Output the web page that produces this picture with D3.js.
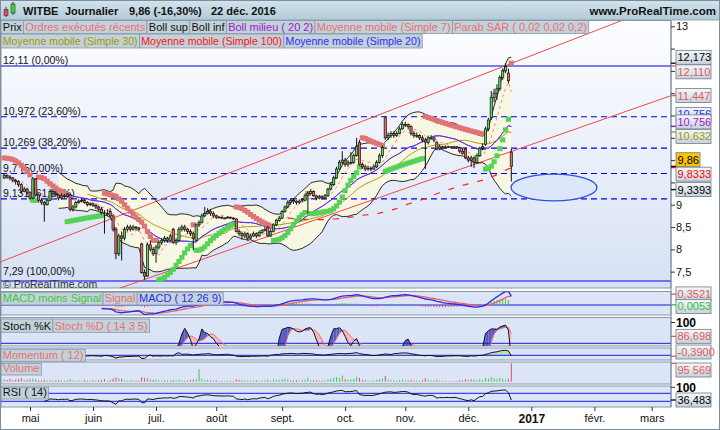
<!DOCTYPE html>
<html><head><meta charset="utf-8">
<script src="https://cdn.jsdelivr.net/npm/d3@7/dist/d3.min.js"></script>
<style>body{margin:0;background:#fff}svg{display:block;font-family:"Liberation Sans",Arial,sans-serif}</style>
</head><body><svg id="c" width="720" height="430"></svg>
<script>
// ---------------- DATA ----------------
const startDate = "2016-04-19";
const opens = [
9.60,9.66,9.62,9.60,9.55,9.52,9.45,9.30,9.35,9.28,
9.15,9.58,9.22,9.10,9.05,9.00,9.10,9.30,9.25,9.22,
9.15,9.20,9.18,9.22,8.90,8.95,9.05,9.08,9.10,9.05,
9.00,9.02,8.98,8.95,8.90,8.82,8.80,8.85,8.75,8.45,
7.90,8.30,8.25,8.45,8.50,8.45,8.50,8.48,8.12,7.48,
7.40,8.10,8.00,7.90,8.05,8.15,8.20,8.25,8.20,8.45,
8.15,8.20,8.45,8.50,8.45,8.40,8.35,8.20,8.55,8.60,
8.75,8.80,8.85,8.80,8.75,8.72,8.72,8.70,8.70,8.72,
8.70,8.68,8.40,8.35,8.30,8.35,8.25,8.30,8.35,8.30,
8.38,8.42,8.50,8.30,8.40,8.55,8.65,8.70,8.85,8.95,
9.05,9.10,9.08,9.05,9.12,9.10,9.20,9.25,9.30,9.20,
9.15,9.18,9.15,9.20,9.35,9.45,9.60,9.80,9.95,10.00,
9.90,9.95,9.95,10.10,10.40,9.90,9.85,9.80,9.82,9.80,
9.85,9.95,10.10,10.95,10.50,10.55,10.60,10.55,10.60,10.70,
10.80,10.80,10.75,10.60,10.55,10.55,10.50,10.45,10.40,10.50,
10.50,10.40,10.25,10.30,10.28,10.30,10.30,10.28,10.30,10.28,
10.20,10.25,10.05,10.00,10.05,9.95,10.10,10.27,10.35,10.70,
10.95,11.40,11.50,11.60,11.85,12.00,11.95,10.18];
const highs = [
9.70,9.68,9.66,9.62,9.58,9.55,9.48,9.40,9.38,9.30,
9.62,9.60,9.25,9.15,9.08,9.15,9.35,9.32,9.30,9.25,
9.25,9.24,9.26,9.24,9.00,9.08,9.12,9.14,9.12,9.08,
9.05,9.05,9.02,8.98,8.95,8.88,8.90,8.92,8.78,8.50,
8.35,8.40,8.50,8.55,8.55,8.55,8.52,8.50,8.15,7.55,
8.15,8.20,8.05,8.10,8.20,8.25,8.30,8.28,8.35,8.48,
8.25,8.50,8.55,8.55,8.48,8.45,8.40,8.58,8.65,8.80,
8.95,8.92,8.90,8.85,8.78,8.75,8.74,8.72,8.74,8.73,
8.72,8.70,8.45,8.40,8.40,8.38,8.35,8.40,8.38,8.42,
8.45,8.50,8.52,8.45,8.58,8.68,8.75,8.88,8.98,9.10,
9.15,9.14,9.10,9.12,9.15,9.25,9.30,9.35,9.32,9.22,
9.22,9.20,9.24,9.38,9.50,9.65,9.85,10.00,10.20,10.05,
10.00,10.18,10.15,10.50,10.45,9.95,9.90,9.88,9.86,9.90,
10.00,10.15,10.32,10.98,10.62,10.65,10.65,10.65,10.75,10.85,
10.86,10.82,10.78,10.65,10.62,10.58,10.55,10.50,10.55,10.56,
10.52,10.42,10.35,10.32,10.33,10.32,10.31,10.32,10.31,10.30,
10.25,10.28,10.10,10.10,10.08,10.15,10.30,10.38,10.75,10.95,
11.55,11.60,11.70,11.90,12.05,12.173,12.05,10.25];
const lows = [
9.58,9.58,9.55,9.50,9.45,9.40,9.25,9.28,9.22,9.10,
9.12,9.18,9.05,9.00,8.62,8.98,9.08,9.20,9.18,9.10,
9.12,9.15,9.15,8.85,8.85,8.92,9.02,9.05,9.02,8.96,
8.97,8.95,8.90,8.85,8.78,8.35,8.75,8.70,8.40,7.78,
7.85,7.75,8.20,8.40,8.40,8.42,8.42,8.40,7.45,7.32,
7.38,7.95,7.85,7.70,8.00,8.10,8.15,8.15,8.18,8.12,
8.10,8.18,8.40,8.40,8.35,8.30,7.98,8.18,8.50,8.58,
8.72,8.78,8.75,8.70,8.68,8.70,8.68,8.68,8.70,8.68,
8.66,8.38,8.30,8.22,8.25,8.20,8.22,8.28,8.25,8.28,
8.35,8.40,8.28,8.28,8.38,8.52,8.62,8.68,8.82,8.92,
9.00,9.02,9.00,9.02,9.05,9.08,8.80,9.22,9.18,9.10,
9.12,9.12,9.12,9.18,9.32,9.42,9.58,9.78,9.90,9.85,
9.85,9.90,9.92,10.08,9.88,9.80,9.75,9.76,9.75,9.78,
9.82,9.92,10.05,10.45,10.45,10.50,10.50,10.52,10.58,10.68,
10.74,10.70,10.55,10.50,10.50,10.45,10.40,9.80,10.35,10.45,
10.40,10.22,10.22,10.24,10.26,10.27,10.26,10.27,10.25,10.15,
10.12,10.02,9.95,9.85,9.82,9.92,10.08,10.22,10.32,10.65,
10.90,11.30,11.35,11.55,11.80,11.95,11.72,9.52];
const closes = [
9.66,9.62,9.60,9.55,9.52,9.45,9.30,9.35,9.28,9.15,
9.58,9.22,9.10,9.05,9.00,9.10,9.30,9.25,9.22,9.15,
9.20,9.18,9.22,8.90,8.95,9.05,9.08,9.10,9.05,9.00,
9.02,8.98,8.95,8.90,8.82,8.80,8.80,8.75,8.45,7.90,
8.30,8.25,8.45,8.50,8.45,8.50,8.48,8.45,7.48,7.40,
8.10,8.00,7.90,8.05,8.15,8.20,8.25,8.20,8.30,8.15,
8.20,8.45,8.50,8.45,8.40,8.35,8.25,8.55,8.60,8.75,
8.80,8.85,8.80,8.75,8.72,8.72,8.70,8.70,8.72,8.70,
8.68,8.40,8.35,8.30,8.35,8.25,8.30,8.35,8.30,8.38,
8.42,8.45,8.30,8.40,8.55,8.65,8.70,8.85,8.95,9.05,
9.10,9.08,9.05,9.08,9.10,9.20,9.25,9.30,9.20,9.15,
9.18,9.15,9.20,9.35,9.45,9.60,9.80,9.95,10.00,9.90,
9.95,9.95,10.10,10.30,9.90,9.85,9.80,9.82,9.80,9.85,
9.95,10.10,10.28,10.50,10.55,10.60,10.55,10.60,10.70,10.80,
10.80,10.75,10.60,10.55,10.55,10.50,10.45,10.40,10.50,10.50,
10.45,10.25,10.30,10.28,10.30,10.30,10.28,10.30,10.28,10.20,
10.15,10.05,10.00,10.05,9.95,10.10,10.27,10.30,10.70,10.90,
11.40,11.50,11.60,11.85,12.00,12.10,11.78,9.86];
const volumes = [
12000,9000,15000,8000,11000,14000,18000,9000,10000,13000,
16000,12000,8000,7000,10000,6000,9000,5000,7000,8000,
6000,5000,9000,12000,7000,5000,6000,4000,8000,5000,
6000,7000,5000,8000,9000,14000,6000,9000,16000,22000,
18000,15000,8000,5000,6000,7000,5000,6000,24000,20000,
18000,12000,9000,11000,7000,6000,8000,5000,7000,9000,
6000,10000,8000,5000,6000,9000,12000,14000,65000,15000,
8000,10000,6000,5000,7000,4000,5000,4000,6000,5000,
4000,12000,8000,6000,7000,5000,6000,5000,8000,4000,
6000,7000,9000,6000,12000,10000,8000,14000,16000,11000,
8000,7000,9000,6000,7000,10000,22000,9000,8000,7000,
6000,5000,7000,12000,15000,20000,24000,18000,32000,14000,
10000,12000,15000,26000,20000,9000,8000,6000,5000,7000,
9000,14000,16000,30000,12000,8000,7000,6000,9000,11000,
8000,6000,10000,7000,6000,5000,8000,18000,9000,7000,
6000,10000,5000,4000,4000,3000,4000,3000,4000,8000,
7000,12000,9000,14000,10000,8000,14000,10000,20000,16000,
24000,18000,14000,20000,16000,12000,15000,95569];

const monthLabels = ["mai","juin","juil.","août","sept.","oct.","nov.","déc.","2017","févr.","mars"];
const priceTicks = [7.5,8,8.5,9,9.5,10,10.5,11,11.5,12,12.5,13];
const fibLevels = [12.11,10.972,10.269,9.7,9.131,7.29];
const fibLabels = ["12,11 (0,00%)","10,972 (23,60%)","10,269 (38,20%)","9,7 (50,00%)","9,131 (61,80%)","7,29 (100,00%)"];
const upperTrend = [[-1.47,7.715],[214.25,13.097]];
const lowerTrend = [[40.42,7.132],[232.74,11.444]];
const ellipseCentre = [191.9,9.386], ellipseRadii = [15,0.30];
const sarSeed = 10.05;
const tagTexts  = ["12,173","12,110","11,447","10,756","10,756","10,632","9,86","9,8333","9,3393"];
const tagValues = [12.173,12.110,11.447,10.756,10.756,10.632,9.86,9.8333,9.3393];
const tagColors = ["#000","#e05a5a","#e05a5a","#2a2aff","#9a20c8","#a09a00","#000","#ff0000","#000"];
const macdTagTexts=["0,3521","0,0053"], macdTagValues=[0.3521,0.0053], macdTagColors=["#e05a5a","#2ec02e"];

// ---------------- HELPERS ----------------
const N = closes.length;
const fmt = v => String(v).replace(".", ",");
function sma(a,n){return a.map((v,i)=>{if(i<n-1)return null;let s=0;for(let k=i-n+1;k<=i;k++){if(a[k]==null)return null;s+=a[k];}return s/n;});}
function ema(a,n){const k=2/(n+1);const o=[];a.forEach((v,i)=>o.push(i===0?v:v*k+o[i-1]*(1-k)));return o;}
const ma7=sma(closes,7), ma20=sma(closes,20), ma30=sma(closes,30), ma100=sma(closes,100);
const bbUp=[],bbDn=[];
closes.forEach((v,i)=>{if(ma20[i]==null){bbUp.push(null);bbDn.push(null);return;}let s=0;for(let k=i-19;k<=i;k++)s+=(closes[k]-ma20[i])**2;const sd=Math.sqrt(s/20);bbUp.push(ma20[i]+2*sd);bbDn.push(ma20[i]-2*sd);});
const sar=[],sarTrend=[];
(function(){let tr=-1,af=0.02,ep=lows[0],s=sarSeed;sar.push(s);sarTrend.push(tr);
for(let i=1;i<N;i++){s=s+af*(ep-s);
 if(tr===-1){s=Math.max(s,highs[i-1],i>1?highs[i-2]:highs[i-1]);
   if(highs[i]>s){tr=1;s=ep;ep=highs[i];af=0.02;}else if(lows[i]<ep){ep=lows[i];af=Math.min(af+0.02,0.2);}}
 else{s=Math.min(s,lows[i-1],i>1?lows[i-2]:lows[i-1]);
   if(lows[i]<s){tr=-1;s=ep;ep=lows[i];af=0.02;}else if(highs[i]>ep){ep=highs[i];af=Math.min(af+0.02,0.2);}}
 sar.push(s);sarTrend.push(tr);}})();
const e12=ema(closes,12),e26=ema(closes,26);
const macd=closes.map((v,i)=>e12[i]-e26[i]);const sig=ema(macd,9);
const raw=closes.map((c,i)=>{if(i<13)return null;const hh=d3.max(highs.slice(i-13,i+1)),ll=d3.min(lows.slice(i-13,i+1));return 100*(c-ll)/(hh-ll);});
const stK=sma(raw,3), stD=sma(stK,5);
const mom=closes.map((c,i)=>i<12?null:c-closes[i-12]);
const rsi=new Array(N).fill(null);
(function(){let g=0,l=0;for(let i=1;i<=14;i++){const d=closes[i]-closes[i-1];if(d>0)g+=d;else l-=d;}g/=14;l/=14;rsi[14]=100-100/(1+g/l);
for(let i=15;i<N;i++){const d=closes[i]-closes[i-1];g=(g*13+Math.max(d,0))/14;l=(l*13+Math.max(-d,0))/14;rsi[i]=l===0?100:100-100/(1+g/l);}})();
const days=[];{let d=new Date(startDate+"T00:00:00Z");while(days.length<240){const w=d.getUTCDay();if(w>0&&w<6)days.push(new Date(d));d.setUTCDate(d.getUTCDate()+1);}}

// ---------------- LAYOUT ----------------
const svg=d3.select("#c");
const defs=svg.append("defs");
function vgrad(id,c1,c2){const g=defs.append("linearGradient").attr("id",id).attr("x1",0).attr("y1",0).attr("x2",0).attr("y2",1);g.append("stop").attr("offset","0%").attr("stop-color",c1);g.append("stop").attr("offset","100%").attr("stop-color",c2);}
vgrad("gMain","#fdfeff","#d7e1f4");vgrad("gHead","#d3e4ed","#b3cad6");vgrad("gTag","#f6f8fb","#c6d2dd");
const PL=1,PR=671;
const P={main:[20.5,288],macd:[291.5,315],stoch:[317.5,346],mom:[348,360],vol:[362,384],rsi:[386,407]};
const x=d3.scaleLinear().domain([0,177]).range([4.2,511.3]);
const y=d3.scaleLinear().domain([7.29,12.11]).range([281,66]);
const yM=d3.scaleLinear().domain([0,0.35]).range([305,294.2]);
const yS=d3.scaleLinear().domain([80,100]).range([343.3,322.5]);
const yMo=d3.scaleLinear().domain([0,2]).range([355.3,350.5]);
const yV=d3.scaleLinear().domain([0,95569]).range([381.7,363.3]);
const yR=d3.scaleLinear().domain([30,70]).range([401.3,393.3]);

svg.append("rect").attr("width",720).attr("height",430).attr("fill","#fff");
Object.entries(P).forEach(([k,[t,b]])=>{
  svg.append("rect").attr("x",PL).attr("y",t).attr("width",PR-PL).attr("height",b-t)
    .attr("fill",k==="main"?"url(#gMain)":"#dce5f7").attr("stroke","#8898a8").attr("stroke-width",1);
  defs.append("clipPath").attr("id","cl_"+k).append("rect").attr("x",PL).attr("y",t).attr("width",PR-PL).attr("height",b-t);
});
const G=k=>svg.append("g").attr("clip-path","url(#cl_"+k+")");

// ---------- MAIN ----------
const gm=G("main");
const idx=d3.range(N);
const defd=a=>i=>a[i]!=null;
gm.append("path").datum(idx).attr("fill","#f7f7e4").attr("d",d3.area().defined(defd(bbUp)).x(i=>x(i)).y0(i=>y(bbDn[i])).y1(i=>y(bbUp[i])));
fibLevels.forEach((v,k)=>{
  gm.append("line").attr("x1",PL).attr("x2",PR).attr("y1",y(v)).attr("y2",y(v)).attr("stroke","#0000e6").attr("stroke-width",1.1)
   .attr("stroke-dasharray",(k===0||k===fibLevels.length-1)?null:"6,4");
  gm.append("text").attr("x",3).attr("y",y(v)-(k===fibLevels.length-1?6.5:2)).attr("font-size",10.5).attr("fill","#111").text(fibLabels[k]);
});
function trend(t){const [a,b]=t;const s=(b[1]-a[1])/(b[0]-a[0]);const i0=-5,i1=240;
  gm.append("line").attr("x1",x(i0)).attr("y1",y(a[1]+s*(i0-a[0]))).attr("x2",x(i1)).attr("y2",y(a[1]+s*(i1-a[0]))).attr("stroke","#f04848").attr("stroke-width",1);}
trend(upperTrend);trend(lowerTrend);
const ln=a=>d3.line().defined(defd(a)).x(i=>x(i)).y(i=>y(a[i]));
gm.append("path").datum(idx).attr("fill","none").attr("stroke","#111").attr("stroke-width",0.9).attr("d",ln(bbUp));
gm.append("path").datum(idx).attr("fill","none").attr("stroke","#111").attr("stroke-width",0.9).attr("d",ln(bbDn));
gm.append("path").datum(idx).attr("fill","none").attr("stroke","#ff2020").attr("stroke-width",1.2).attr("stroke-dasharray","6,9").attr("d",ln(ma100));
gm.append("path").datum(idx).attr("fill","none").attr("stroke","#a8a000").attr("stroke-width",1).attr("d",ln(ma30));
gm.append("path").datum(idx).attr("fill","none").attr("stroke","#9a20c8").attr("stroke-width",1).attr("d",ln(ma20));
gm.append("path").datum(idx).attr("fill","none").attr("stroke","#3030ff").attr("stroke-width",1).attr("opacity",0.75).attr("d",ln(ma20));
gm.append("path").datum(idx).attr("fill","none").attr("stroke","#f08a8a").attr("stroke-width",1).attr("stroke-dasharray","3,3").attr("d",ln(ma7));
gm.selectAll("rect.sar").data(idx).join("rect").attr("class","sar")
  .attr("x",i=>x(i)-2.6).attr("y",i=>y(sar[i])-2.5).attr("width",5.2).attr("height",5)
  .attr("fill",i=>sarTrend[i]<0?"#e07474":"#56d256");
gm.selectAll("line.wick").data(idx).join("line").attr("class","wick")
  .attr("x1",i=>x(i)).attr("x2",i=>x(i)).attr("y1",i=>y(highs[i])).attr("y2",i=>y(lows[i])).attr("stroke","#111").attr("stroke-width",1);
gm.selectAll("rect.body").data(idx).join("rect").attr("class","body")
  .attr("x",i=>x(i)-1.1).attr("width",2.2)
  .attr("y",i=>y(Math.max(opens[i],closes[i])))
  .attr("height",i=>Math.max(0.8,Math.abs(y(opens[i])-y(closes[i]))))
  .attr("fill",i=>closes[i]>=opens[i]?"#5cd65c":"#e46a6a").attr("stroke","#111").attr("stroke-width",0.7);
gm.append("ellipse").attr("cx",x(ellipseCentre[0])).attr("cy",y(ellipseCentre[1]))
  .attr("rx",x(ellipseCentre[0]+ellipseRadii[0])-x(ellipseCentre[0])).attr("ry",y(ellipseCentre[1]-ellipseRadii[1])-y(ellipseCentre[1]))
  .attr("fill","#dde7fa").attr("stroke","#2f4fe0").attr("stroke-width",1.3);
gm.append("text").attr("x",3).attr("y",287.5).attr("font-size",10.5).attr("fill","#333").text("© ProRealTime.com");

// ---------- MACD ----------
const gmc=G("macd");
const mi=idx.filter(i=>i>=34);
gmc.append("line").attr("x1",PL).attr("x2",PR).attr("y1",yM(0)).attr("y2",yM(0)).attr("stroke","#1a1ae6");
gmc.selectAll("line.h").data(mi).join("line").attr("class","h").attr("x1",i=>x(i)).attr("x2",i=>x(i)).attr("y1",yM(0)).attr("y2",i=>yM(macd[i]-sig[i]))
  .attr("stroke",i=>macd[i]>=sig[i]?"#40c840":"#e05050").attr("stroke-width",1);
gmc.append("path").datum(mi).attr("fill","none").attr("stroke","#f06060").attr("stroke-width",1.3).attr("d",d3.line().x(i=>x(i)).y(i=>yM(sig[i])));
gmc.append("path").datum(mi).attr("fill","none").attr("stroke","#2a2aee").attr("stroke-width",1.3).attr("d",d3.line().x(i=>x(i)).y(i=>yM(macd[i])));

// ---------- STOCH ----------
const gs=G("stoch");
const si=idx.filter(i=>stD[i]!=null);
for(let k=0;k<si.length-1;k++){const a=si[k],b=si[k+1];
  gs.append("path").attr("d",`M${x(a)},${yS(stK[a])}L${x(b)},${yS(stK[b])}L${x(b)},${yS(stD[b])}L${x(a)},${yS(stD[a])}Z`)
   .attr("fill",(stK[a]+stK[b])>=(stD[a]+stD[b])?"#5a5ac4":"#f2b8c2");}
gs.append("line").attr("x1",PL).attr("x2",PR).attr("y1",yS(80)).attr("y2",yS(80)).attr("stroke","#1a1ae6");
gs.append("path").datum(si).attr("fill","none").attr("stroke","#f07070").attr("stroke-width",1).attr("d",d3.line().x(i=>x(i)).y(i=>yS(stD[i])));
gs.append("path").datum(si).attr("fill","none").attr("stroke","#111").attr("stroke-width",1).attr("d",d3.line().x(i=>x(i)).y(i=>yS(stK[i])));

// ---------- MOMENTUM ----------
const gmo=G("mom");
const moi=idx.filter(i=>mom[i]!=null);
gmo.append("path").datum(moi).attr("fill","#a8e0a0").attr("opacity",0.7).attr("d",d3.area().x(i=>x(i)).y0(yMo(0)).y1(i=>yMo(Math.max(0,mom[i]))));
gmo.append("path").datum(moi).attr("fill","#f2b0b0").attr("opacity",0.7).attr("d",d3.area().x(i=>x(i)).y0(yMo(0)).y1(i=>yMo(Math.min(0,mom[i]))));
gmo.append("line").attr("x1",PL).attr("x2",PR).attr("y1",yMo(0)).attr("y2",yMo(0)).attr("stroke","#1a1ae6");
gmo.append("path").datum(moi).attr("fill","none").attr("stroke","#111").attr("stroke-width",1).attr("d",d3.line().x(i=>x(i)).y(i=>yMo(mom[i])));

// ---------- VOLUME ----------
const gv=G("vol");
gv.selectAll("line").data(idx).join("line").attr("x1",i=>x(i)).attr("x2",i=>x(i)).attr("y1",yV(0)).attr("y2",i=>yV(volumes[i]))
  .attr("stroke",i=>closes[i]>=opens[i]?"#3ccc3c":"#e05050").attr("stroke-width",1);

// ---------- RSI ----------
const gr=G("rsi");
[70,30].forEach(v=>gr.append("line").attr("x1",PL).attr("x2",PR).attr("y1",yR(v)).attr("y2",yR(v)).attr("stroke","#1a1ae6"));
const ri=idx.filter(i=>rsi[i]!=null);
gr.append("path").datum(ri).attr("fill","none").attr("stroke","#111").attr("stroke-width",1).attr("d",d3.line().x(i=>x(i)).y(i=>yR(rsi[i])));

// ---------- TAG POSITIONS ----------
function spread(ys,h,skip){for(let it=0;it<60;it++){const o=ys.map((v,k)=>k).filter(k=>!skip.includes(k)).sort((a,b)=>ys[a]-ys[b]);
  for(let k=1;k<o.length;k++){const a=o[k-1],b=o[k];const g=ys[b]-ys[a];if(g<h){const d=(h-g)/2;ys[a]-=d;ys[b]+=d;}}}return ys;}
const mainY=spread(tagValues.map(v=>y(v)),14.5,[3]);
mainY[3]=mainY[4]-7.5;

// ---------- AXES ----------
svg.append("line").attr("x1",PR).attr("x2",PR).attr("y1",20).attr("y2",407).attr("stroke","#7d8d9d");
const ya=svg.append("g").attr("transform",`translate(${PR},0)`).call(d3.axisRight(y).tickValues(priceTicks).tickSize(4).tickFormat(fmt));
ya.select(".domain").remove();
ya.selectAll("text").attr("font-size",11).attr("font-family","Liberation Sans, Arial").attr("fill","#111").attr("x",5)
  .attr("display",d=>mainY.some(t=>Math.abs(t-y(d))<9)?"none":null);
ya.selectAll("line").attr("stroke","#333");
const tickIdx=[];for(let i=1;i<days.length;i++){if(days[i].getUTCMonth()!==days[i-1].getUTCMonth()&&x(i)<PR-5)tickIdx.push(i);}
const xa=svg.append("g").attr("transform","translate(0,407)").call(d3.axisBottom(x).tickValues(tickIdx).tickSize(4).tickFormat((d,k)=>monthLabels[k]));
xa.select(".domain").remove();
xa.selectAll("text").attr("font-family","Liberation Sans, Arial").attr("fill","#111")
  .attr("font-size",(d,k)=>monthLabels[k]==="2017"?12:11).attr("font-weight",(d,k)=>monthLabels[k]==="2017"?"bold":null);
xa.selectAll("line").attr("stroke","#333");
[[yS(100),"100"],[yR(100),"100"]].forEach(([yy,t])=>{svg.append("line").attr("x1",PR).attr("x2",PR+4).attr("y1",yy).attr("y2",yy).attr("stroke","#333");
  svg.append("text").attr("x",PR+5).attr("y",yy+4.5).attr("font-size",12).attr("font-weight","bold").text(t);});

// ---------- TAGS ----------
function tag(yy,t,col,bg,w,mark){
  if(mark!=null)svg.append("line").attr("x1",PR).attr("x2",PR+5).attr("y1",mark).attr("y2",mark).attr("stroke",col).attr("stroke-width",1.3);
  svg.append("rect").attr("x",676).attr("y",yy-7).attr("width",w||35).attr("height",14).attr("fill",bg||"url(#gTag)").attr("stroke","#6c7c8c").attr("stroke-width",0.8);
  svg.append("text").attr("x",677.5).attr("y",yy+4).attr("font-size",11).attr("fill",col).text(t);
}
tagTexts.forEach((t,k)=>tag(mainY[k],t,tagColors[k],t==="9,86"?"#ffc400":null,t==="9,86"?24:null,y(tagValues[k])));
const clamp=(v,a,b)=>Math.max(a,Math.min(b,v));
const mY=spread(macdTagValues.map(v=>clamp(yM(v),P.macd[0]+4,P.macd[1]-7)),12.5,[]);
macdTagTexts.forEach((t,k)=>tag(mY[k],t,macdTagColors[k],null,null,yM(macdTagValues[k])));
tag(clamp(yS(86.698),P.stoch[0]+5,P.stoch[1]-7),"86,698","#e05a5a",null,null,yS(86.698));
tag(clamp(yMo(-0.39),P.mom[0]+3,P.mom[1]-8),"-0,3900","#e05a5a",null,null,yMo(-0.39));
tag(clamp(yV(95569),P.vol[0]+8,P.vol[1]-7),"95 569","#e05a5a",null,null,yV(95569));
tag(clamp(yR(36.483),P.rsi[0]+5,P.rsi[1]-7),"36,483","#000",null,null,yR(36.483));

// ---------- LEGENDS ----------
function legend(items,x0,yy,h,fs){let cx=x0;items.forEach(([t,c])=>{
  const g=svg.append("g");
  const r=g.append("rect").attr("x",cx).attr("y",yy).attr("height",h).attr("fill","#c3d1da").attr("stroke","#8797a6").attr("stroke-width",0.8);
  const tx=g.append("text").attr("x",cx+1.8).attr("y",yy+h-2.8).attr("font-size",fs||11).attr("fill",c).text(t);
  const w=tx.node().getComputedTextLength()+3.6;r.attr("width",w);cx+=w;});}
legend([["Prix","#111"],["Ordres exécutés récents","#ea7070"],["Boll sup","#111"],["Boll inf","#111"],["Boll milieu ( 20 2)","#9a20c8"],["Moyenne mobile (Simple 7)","#ea7070"],["Parab SAR ( 0,02 0,02 0,2)","#ea7070"]],1,20.5,13);
legend([["Moyenne mobile (Simple 30)","#a09a00"],["Moyenne mobile (Simple 100)","#ff1010"],["Moyenne mobile (Simple 20)","#2a2aff"]],1,34,14,10.6);
legend([["MACD moins Signal","#3cc83c"],["Signal","#ea7070"],["MACD ( 12 26 9)","#2a2aee"]],1,292.3,12.7);
legend([["Stoch %K","#111"],["Stoch %D ( 14 3 5)","#ea7070"]],1,319,13.3);
legend([["Momentum ( 12)","#ea7070"]],1,349.3,12);
legend([["Volume","#ea7070"]],1,363.3,11.7);
legend([["RSI ( 14)","#111"]],1,387.3,11.7);

// ---------- HEADER ----------
svg.append("rect").attr("x",0).attr("y",0).attr("width",720).attr("height",20).attr("fill","url(#gHead)").attr("stroke","#8898a8").attr("stroke-width",0.8);
svg.append("line").attr("x1",6).attr("x2",6).attr("y1",7).attr("y2",17).attr("stroke","#333");
svg.append("rect").attr("x",4).attr("y",9.5).attr("width",4).attr("height",6).attr("fill","#e05050").attr("stroke","#333").attr("stroke-width",0.6);
svg.append("line").attr("x1",13).attr("x2",13).attr("y1",2).attr("y2",15).attr("stroke","#333");
svg.append("rect").attr("x",11).attr("y",4).attr("width",4).attr("height",9).attr("fill","#40d040").attr("stroke","#333").attr("stroke-width",0.6);
[["WITBE",23],["Journalier",65],["9,86 (-16,30%)",129],["22 déc. 2016",211]].forEach(([t,xx])=>
  svg.append("text").attr("x",xx).attr("y",15).attr("font-size",11).attr("font-weight","bold").attr("fill","#111").text(t));
svg.append("text").attr("x",716).attr("y",15).attr("text-anchor","end").attr("font-size",11.5).attr("fill","#111").attr("font-weight","bold").text("www.ProRealTime.com");
svg.append("rect").attr("x",0.5).attr("y",0.5).attr("width",719).attr("height",429).attr("fill","none").attr("stroke","#7d8d9d");
</script></body></html>
